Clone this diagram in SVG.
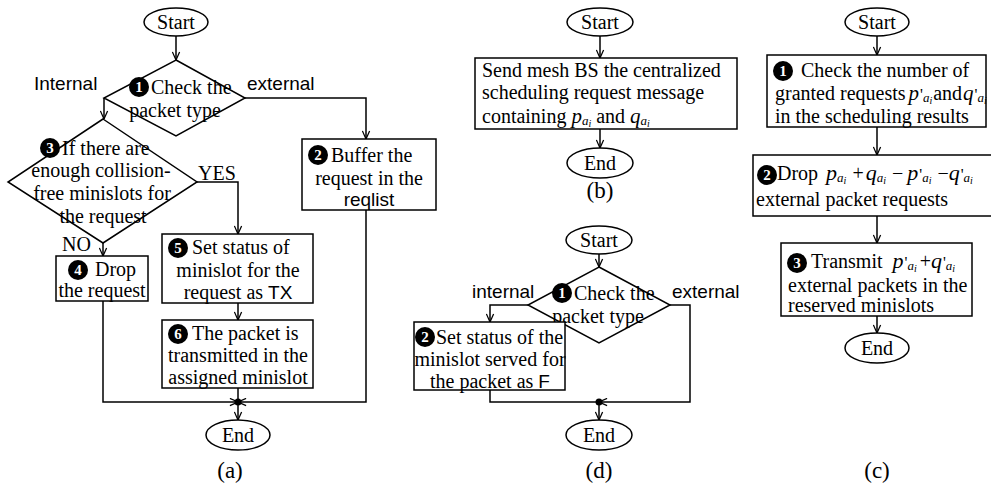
<svg xmlns="http://www.w3.org/2000/svg" width="991" height="488" viewBox="0 0 991 488">
<defs>
<style>
.n{fill:#fff;stroke:#000;stroke-width:1.5}
.c{fill:none;stroke:#000;stroke-width:1.5}
.ca{fill:none;stroke:#000;stroke-width:1.5;marker-end:url(#ah)}
.t{font-family:"Liberation Serif",serif;font-size:20px;fill:#000}
.s{font-family:"Liberation Sans",sans-serif;font-size:19px;fill:#000}
.m{font-style:italic;font-size:22px}
.m2{font-style:italic;font-size:21px}
.s1{font-style:italic;font-size:13px}
.s2{font-style:italic;font-size:10px}
.pr{font-size:16px}
.cap{font-family:"Liberation Serif",serif;font-size:23px;fill:#000;text-anchor:middle}
.mid{text-anchor:middle}
.bc{fill:#000}
.bt{font-family:"Liberation Serif",serif;font-size:15px;font-weight:bold;fill:#fff;text-anchor:middle}
</style>
<marker id="ah" viewBox="0 0 10 10" refX="10" refY="5" markerWidth="9" markerHeight="9" markerUnits="userSpaceOnUse" orient="auto">
<path d="M1,1 L10,5 L1,9" fill="none" stroke="#000" stroke-width="1.4"/>
</marker>
</defs>
<rect width="991" height="488" fill="#fff"/>

<!-- (a) -->
<g id="a-start"><ellipse class="n" cx="176" cy="22" rx="32" ry="14"/><text class="t mid" x="176" y="29">Start</text></g>
<g id="a-d1"><polygon class="n" points="176,60 245,98 176,136 104,98"/>
<circle class="bc" cx="139" cy="87" r="10"/><text class="bt" x="139" y="92">1</text>
<text class="t" x="151" y="94">Check the</text><text class="t mid" x="175" y="117">packet type</text></g>
<g id="a-d3"><polygon class="n" points="103,119 197,182 103,243 8,182"/>
<circle class="bc" cx="50" cy="148" r="10"/><text class="bt" x="50" y="153">3</text>
<text class="t" x="62" y="155">If there are</text>
<text class="t mid" x="101" y="177">enough collision-</text>
<text class="t mid" x="102" y="200">free minislots for</text>
<text class="t mid" x="103" y="223">the request</text></g>
<g id="a-b2"><rect class="n" x="302" y="139" width="134" height="71"/>
<circle class="bc" cx="318" cy="155" r="10"/><text class="bt" x="318" y="160">2</text>
<text class="t" x="331" y="162">Buffer the</text>
<text class="t mid" x="369" y="185">request in the</text>
<text class="s mid" x="369" y="206">reqlist</text></g>
<g id="a-b4"><rect class="n" x="56" y="256" width="92" height="45"/>
<circle class="bc" cx="78" cy="270" r="10"/><text class="bt" x="78" y="275">4</text>
<text class="t" x="95" y="276">Drop</text>
<text class="t mid" x="102" y="297">the request</text></g>
<g id="a-b5"><rect class="n" x="162" y="234" width="151" height="69"/>
<circle class="bc" cx="178" cy="248" r="10"/><text class="bt" x="178" y="253">5</text>
<text class="t" x="192" y="254">Set status of</text>
<text class="t mid" x="238" y="277">minislot for the</text>
<text class="t mid" x="238" y="299">request as <tspan class="s">TX</tspan></text></g>
<g id="a-b6"><rect class="n" x="162" y="320" width="151" height="68"/>
<circle class="bc" cx="178" cy="334" r="10"/><text class="bt" x="178" y="339">6</text>
<text class="t" x="192" y="340">The packet is</text>
<text class="t mid" x="238" y="362">transmitted in the</text>
<text class="t mid" x="238" y="384">assigned minislot</text></g>
<g id="a-end"><ellipse class="n" cx="238" cy="435" rx="32" ry="15"/><text class="t mid" x="238" y="442">End</text></g>
<g id="a-labels">
<text class="s" x="34" y="90">Internal</text>
<text class="s" x="247" y="90">external</text>
<text class="t" x="198" y="180">YES</text>
<text class="t" x="62" y="251">NO</text>
<text class="cap" x="230" y="478">(a)</text></g>

<!-- (b) -->
<g id="b-start"><ellipse class="n" cx="600" cy="22" rx="33" ry="14"/><text class="t mid" x="600" y="29">Start</text></g>
<g id="b-box"><rect class="n" x="475" y="58" width="262" height="71"/>
<text class="t" x="482" y="77">Send mesh BS the centralized</text>
<text class="t" x="482" y="99">scheduling request message</text>
<text class="t" x="482" y="123">containing <tspan class="m2">p</tspan><tspan class="s1" dy="2">a</tspan><tspan class="s2" dy="2">i</tspan><tspan dy="-4"> and </tspan><tspan class="m2">q</tspan><tspan class="s1" dy="2">a</tspan><tspan class="s2" dy="2">i</tspan></text></g>
<g id="b-end"><ellipse class="n" cx="600" cy="163" rx="33" ry="15"/><text class="t mid" x="600" y="170">End</text></g>
<text class="cap" x="600" y="198">(b)</text>

<!-- (d) -->
<g id="d-start"><ellipse class="n" cx="599" cy="240" rx="33" ry="14"/><text class="t mid" x="599" y="247">Start</text></g>
<g id="d-d1"><polygon class="n" points="599,267 670,305 599,343 528,305"/>
<circle class="bc" cx="562" cy="293" r="10"/><text class="bt" x="562" y="298">1</text>
<text class="t" x="574" y="300">Check the</text><text class="t mid" x="598" y="323">packet type</text></g>
<g id="d-b2"><rect class="n" x="414" y="322" width="151" height="68"/>
<circle class="bc" cx="425" cy="337" r="10"/><text class="bt" x="425" y="342">2</text>
<text class="t" x="436" y="344">Set status of the</text>
<text class="t mid" x="490" y="366">minislot served for</text>
<text class="t mid" x="490" y="388">the packet as <tspan class="s">F</tspan></text></g>
<g id="d-end"><ellipse class="n" cx="599" cy="435" rx="33" ry="15"/><text class="t mid" x="599" y="442">End</text></g>
<g id="d-labels">
<text class="s" x="472" y="298">internal</text>
<text class="s" x="672" y="298">external</text>
<text class="cap" x="599" y="478">(d)</text></g>

<!-- (c) -->
<g id="c-start"><ellipse class="n" cx="877" cy="22" rx="32" ry="14"/><text class="t mid" x="877" y="29">Start</text></g>
<g id="c-b1"><rect class="n" x="767" y="55" width="219" height="72"/>
<circle class="bc" cx="783" cy="71" r="10"/><text class="bt" x="783" y="76">1</text>
<text class="t" x="801" y="77">Check the number of</text>
<text class="t" x="775" y="100">granted requests<tspan class="m2" dx="3">p</tspan><tspan class="pr" dx="1">'</tspan><tspan class="s1" dy="2">a</tspan><tspan class="s2" dy="2">i</tspan><tspan dy="-4" dx="1">and</tspan><tspan class="m2" dx="1">q</tspan><tspan class="pr" dx="1">'</tspan><tspan class="s1" dy="2">a</tspan><tspan class="s2" dy="2">i</tspan></text>
<text class="t" x="775" y="123">in the scheduling results</text></g>
<g id="c-b2"><rect class="n" x="753" y="155" width="250" height="61"/>
<circle class="bc" cx="767" cy="175" r="10"/><text class="bt" x="767" y="180">2</text>
<text class="t" x="777" y="180">Drop<tspan class="m" dx="8">p</tspan><tspan class="s1" dy="2">a</tspan><tspan class="s2" dy="2">i</tspan><tspan dy="-4" dx="6">+</tspan><tspan class="m" dx="2">q</tspan><tspan class="s1" dy="2">a</tspan><tspan class="s2" dy="2">i</tspan><tspan dy="-4" dx="6">−</tspan><tspan class="m" dx="4">p</tspan><tspan class="pr" dx="1">'</tspan><tspan class="s1" dy="2">a</tspan><tspan class="s2" dy="2">i</tspan><tspan dy="-4" dx="6">−</tspan><tspan class="m">q</tspan><tspan class="pr" dx="1">'</tspan><tspan class="s1" dy="2">a</tspan><tspan class="s2" dy="2">i</tspan></text>
<text class="t" x="756" y="206">external packet requests</text></g>
<g id="c-b3"><rect class="n" x="781" y="243" width="191" height="73"/>
<circle class="bc" cx="797" cy="263" r="10"/><text class="bt" x="797" y="268">3</text>
<text class="t" x="811" y="268">Transmit<tspan class="m" dx="10">p</tspan><tspan class="pr" dx="1">'</tspan><tspan class="s1" dy="2">a</tspan><tspan class="s2" dy="2">i</tspan><tspan dy="-4" dx="3">+</tspan><tspan class="m">q</tspan><tspan class="pr" dx="1">'</tspan><tspan class="s1" dy="2">a</tspan><tspan class="s2" dy="2">i</tspan></text>
<text class="t" x="788" y="292">external packets in the</text>
<text class="t" x="788" y="312">reserved minislots</text></g>
<g id="c-end"><ellipse class="n" cx="877" cy="348" rx="32" ry="15"/><text class="t mid" x="877" y="355">End</text></g>
<text class="cap" x="877" y="478">(c)</text>

<g id="connectors">
<!-- a -->
<path class="ca" d="M176,36 V60"/>
<path class="ca" d="M104,98 V119"/>
<path class="ca" d="M245,98 H366 V139"/>
<path class="ca" d="M197,182 H238 V234"/>
<path class="ca" d="M103,243 V256"/>
<path class="ca" d="M238,303 V320"/>
<path class="ca" d="M103,301 V402 H238"/>
<path class="ca" d="M366,210 V402 H238"/>
<path class="c" d="M238,388 V402"/>
<path class="ca" d="M238,402 V420"/>
<circle cx="238" cy="402" r="3.5" fill="#000"/>
<!-- b -->
<path class="ca" d="M600,36 V58"/>
<path class="ca" d="M600,129 V148"/>
<!-- d -->
<path class="ca" d="M599,254 V267"/>
<path class="ca" d="M528,305 H490 V322"/>
<path class="ca" d="M670,305 H690 V402 H599"/>
<path class="c" d="M490,390 V402 H599"/>
<path class="ca" d="M599,402 V420"/>
<circle cx="599" cy="402" r="3.5" fill="#000"/>
<!-- c -->
<path class="ca" d="M877,36 V55"/>
<path class="ca" d="M877,127 V155"/>
<path class="ca" d="M877,216 V243"/>
<path class="ca" d="M877,316 V333"/>
</g>
</svg>
